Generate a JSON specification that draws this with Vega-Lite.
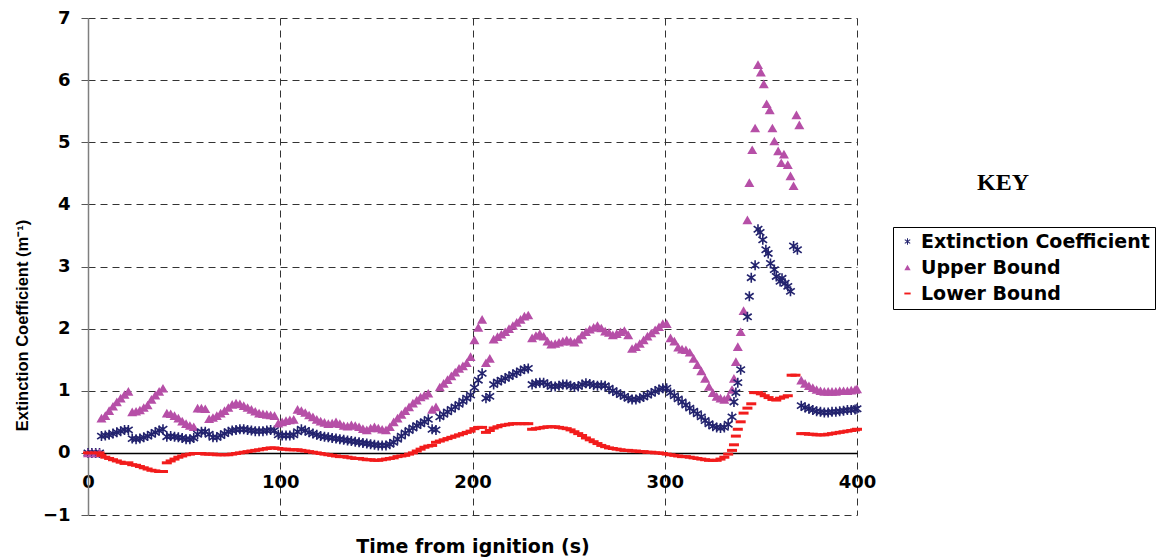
{
  "$schema": "https://vega.github.io/schema/vega-lite/v6.json",
  "width": 769,
  "height": 497,
  "autosize": {"type": "none"},
  "padding": {"left": 88, "top": 18, "right": 310, "bottom": 43},
  "background": "white",
  "title": {"text": "KEY", "font": "Liberation Serif", "fontSize": 24, "fontWeight": "bold", "color": "#000", "anchor": "start", "frame": "group", "orient": "top", "offset": 0, "baseline": "alphabetic", "dx": 889, "dy": 205},
  "data": {"values": [
    {"t":0,"e":0,"u":0,"l":0},{"t":2,"e":0,"u":0,"l":0},{"t":4,"e":0,"u":0,"l":0},{"t":6,"e":0,"u":0,"l":0},
    {"t":7,"e":0.27,"u":0.56,"l":-0.04},{"t":9,"e":0.28,"u":0.6,"l":-0.07},{"t":11,"e":0.29,"u":0.68,"l":-0.09},{"t":13,"e":0.31,"u":0.75,"l":-0.11},
    {"t":15,"e":0.33,"u":0.82,"l":-0.13},{"t":17,"e":0.35,"u":0.88,"l":-0.15},{"t":19,"e":0.37,"u":0.94,"l":-0.17},{"t":21,"e":0.37,"u":0.99,"l":-0.16},
    {"t":23,"e":0.23,"u":0.66,"l":-0.19},{"t":25,"e":0.22,"u":0.67,"l":-0.2},{"t":27,"e":0.23,"u":0.69,"l":-0.22},{"t":29,"e":0.25,"u":0.73,"l":-0.24},
    {"t":31,"e":0.27,"u":0.77,"l":-0.26},{"t":33,"e":0.3,"u":0.86,"l":-0.28},{"t":35,"e":0.33,"u":0.93,"l":-0.29},{"t":37,"e":0.36,"u":0.99,"l":-0.3},
    {"t":39,"e":0.38,"u":1.04,"l":-0.3},{"t":41,"e":0.26,"u":0.64,"l":-0.16},{"t":43,"e":0.27,"u":0.63,"l":-0.13},{"t":45,"e":0.26,"u":0.6,"l":-0.1},
    {"t":47,"e":0.25,"u":0.56,"l":-0.07},{"t":49,"e":0.24,"u":0.51,"l":-0.05},{"t":51,"e":0.22,"u":0.47,"l":-0.03},{"t":53,"e":0.22,"u":0.44,"l":-0.02},
    {"t":55,"e":0.24,"u":0.42,"l":-0.01},{"t":57,"e":0.3,"u":0.72,"l":-0.01},{"t":59,"e":0.34,"u":0.72,"l":-0.01},{"t":61,"e":0.34,"u":0.71,"l":-0.02},
    {"t":63,"e":0.3,"u":0.55,"l":-0.02},{"t":65,"e":0.25,"u":0.57,"l":-0.02},{"t":67,"e":0.25,"u":0.6,"l":-0.03},{"t":69,"e":0.28,"u":0.64,"l":-0.03},
    {"t":71,"e":0.31,"u":0.68,"l":-0.03},{"t":73,"e":0.34,"u":0.73,"l":-0.03},{"t":75,"e":0.36,"u":0.78,"l":-0.02},{"t":77,"e":0.37,"u":0.8,"l":-0.01},
    {"t":79,"e":0.38,"u":0.79,"l":0},{"t":81,"e":0.38,"u":0.76,"l":0.01},{"t":83,"e":0.37,"u":0.73,"l":0.02},{"t":85,"e":0.36,"u":0.7,"l":0.03},
    {"t":87,"e":0.35,"u":0.67,"l":0.04},{"t":89,"e":0.35,"u":0.64,"l":0.05},{"t":91,"e":0.35,"u":0.63,"l":0.06},{"t":93,"e":0.36,"u":0.62,"l":0.07},
    {"t":95,"e":0.37,"u":0.61,"l":0.08},{"t":97,"e":0.36,"u":0.6,"l":0.08},{"t":99,"e":0.29,"u":0.48,"l":0.07},{"t":101,"e":0.28,"u":0.5,"l":0.06},
    {"t":103,"e":0.28,"u":0.52,"l":0.06},{"t":105,"e":0.28,"u":0.53,"l":0.05},{"t":107,"e":0.29,"u":0.54,"l":0.05},{"t":109,"e":0.34,"u":0.7,"l":0.05},
    {"t":111,"e":0.38,"u":0.68,"l":0.04},{"t":113,"e":0.36,"u":0.65,"l":0.03},{"t":115,"e":0.33,"u":0.61,"l":0.02},{"t":117,"e":0.31,"u":0.58,"l":0.01},
    {"t":119,"e":0.29,"u":0.54,"l":0},{"t":121,"e":0.27,"u":0.51,"l":-0.01},{"t":123,"e":0.26,"u":0.49,"l":-0.02},{"t":125,"e":0.25,"u":0.47,"l":-0.03},
    {"t":127,"e":0.24,"u":0.48,"l":-0.04},{"t":129,"e":0.23,"u":0.5,"l":-0.05},{"t":131,"e":0.22,"u":0.47,"l":-0.06},{"t":133,"e":0.21,"u":0.44,"l":-0.06},
    {"t":135,"e":0.2,"u":0.43,"l":-0.07},{"t":137,"e":0.19,"u":0.45,"l":-0.08},{"t":139,"e":0.18,"u":0.44,"l":-0.09},{"t":141,"e":0.17,"u":0.42,"l":-0.09},
    {"t":143,"e":0.16,"u":0.39,"l":-0.1},{"t":145,"e":0.15,"u":0.37,"l":-0.11},{"t":147,"e":0.14,"u":0.4,"l":-0.11},{"t":149,"e":0.13,"u":0.42,"l":-0.12},
    {"t":151,"e":0.12,"u":0.4,"l":-0.12},{"t":153,"e":0.12,"u":0.38,"l":-0.11},{"t":155,"e":0.12,"u":0.37,"l":-0.1},{"t":157,"e":0.14,"u":0.42,"l":-0.09},
    {"t":159,"e":0.17,"u":0.5,"l":-0.08},{"t":161,"e":0.22,"u":0.56,"l":-0.06},{"t":163,"e":0.27,"u":0.62,"l":-0.05},{"t":165,"e":0.32,"u":0.68,"l":-0.04},
    {"t":167,"e":0.36,"u":0.74,"l":-0.02},{"t":169,"e":0.4,"u":0.8,"l":0},{"t":171,"e":0.44,"u":0.85,"l":0.03},{"t":173,"e":0.47,"u":0.9,"l":0.06},
    {"t":175,"e":0.5,"u":0.93,"l":0.09},{"t":177,"e":0.54,"u":0.96,"l":0.11},{"t":179,"e":0.38,"u":0.7,"l":0.12},{"t":181,"e":0.37,"u":0.74,"l":0.17},
    {"t":183,"e":0.58,"u":1.06,"l":0.19},{"t":185,"e":0.62,"u":1.12,"l":0.21},{"t":187,"e":0.66,"u":1.18,"l":0.23},{"t":189,"e":0.7,"u":1.24,"l":0.25},
    {"t":191,"e":0.74,"u":1.3,"l":0.27},{"t":193,"e":0.78,"u":1.36,"l":0.29},{"t":195,"e":0.83,"u":1.4,"l":0.31},{"t":197,"e":0.88,"u":1.45,"l":0.33},
    {"t":199,"e":0.93,"u":1.55,"l":0.35},{"t":201,"e":1.05,"u":1.82,"l":0.39},{"t":203,"e":1.17,"u":2.02,"l":0.41},{"t":205,"e":1.28,"u":2.15,"l":0.41},
    {"t":207,"e":0.88,"u":1.45,"l":0.33},{"t":209,"e":0.91,"u":1.52,"l":0.36},{"t":211,"e":1.1,"u":1.83,"l":0.4},{"t":213,"e":1.14,"u":1.87,"l":0.42},
    {"t":215,"e":1.17,"u":1.91,"l":0.44},{"t":217,"e":1.2,"u":1.95,"l":0.45},{"t":219,"e":1.23,"u":2.0,"l":0.46},{"t":221,"e":1.26,"u":2.05,"l":0.47},
    {"t":223,"e":1.29,"u":2.1,"l":0.47},{"t":225,"e":1.32,"u":2.15,"l":0.47},{"t":227,"e":1.35,"u":2.2,"l":0.47},{"t":229,"e":1.36,"u":2.22,"l":0.47},
    {"t":231,"e":1.1,"u":1.85,"l":0.38},{"t":233,"e":1.12,"u":1.89,"l":0.39},{"t":235,"e":1.13,"u":1.92,"l":0.4},{"t":237,"e":1.13,"u":1.88,"l":0.41},
    {"t":239,"e":1.1,"u":1.8,"l":0.42},{"t":241,"e":1.07,"u":1.75,"l":0.42},{"t":243,"e":1.07,"u":1.76,"l":0.42},{"t":245,"e":1.08,"u":1.78,"l":0.41},
    {"t":247,"e":1.1,"u":1.8,"l":0.4},{"t":249,"e":1.1,"u":1.82,"l":0.39},{"t":251,"e":1.08,"u":1.8,"l":0.37},{"t":253,"e":1.06,"u":1.78,"l":0.34},
    {"t":255,"e":1.07,"u":1.83,"l":0.31},{"t":257,"e":1.1,"u":1.9,"l":0.28},{"t":259,"e":1.12,"u":1.95,"l":0.24},{"t":261,"e":1.11,"u":1.99,"l":0.21},
    {"t":263,"e":1.09,"u":2.02,"l":0.18},{"t":265,"e":1.08,"u":2.05,"l":0.15},{"t":267,"e":1.09,"u":2.01,"l":0.12},{"t":269,"e":1.08,"u":1.96,"l":0.1},
    {"t":271,"e":1.04,"u":1.94,"l":0.08},{"t":273,"e":1.0,"u":1.9,"l":0.07},{"t":275,"e":0.97,"u":1.92,"l":0.06},{"t":277,"e":0.94,"u":1.95,"l":0.05},
    {"t":279,"e":0.91,"u":1.97,"l":0.04},{"t":281,"e":0.88,"u":1.9,"l":0.04},{"t":283,"e":0.86,"u":1.68,"l":0.03},{"t":285,"e":0.86,"u":1.71,"l":0.03},
    {"t":287,"e":0.88,"u":1.76,"l":0.02},{"t":289,"e":0.9,"u":1.82,"l":0.02},{"t":291,"e":0.93,"u":1.88,"l":0.01},{"t":293,"e":0.96,"u":1.93,"l":0.01},
    {"t":295,"e":0.99,"u":1.98,"l":0},{"t":297,"e":1.02,"u":2.03,"l":0},{"t":299,"e":1.04,"u":2.08,"l":-0.01},{"t":301,"e":1.04,"u":2.08,"l":-0.02},
    {"t":303,"e":0.97,"u":1.85,"l":-0.03},{"t":305,"e":0.92,"u":1.8,"l":-0.04},{"t":307,"e":0.87,"u":1.7,"l":-0.05},{"t":309,"e":0.82,"u":1.67,"l":-0.06},
    {"t":311,"e":0.77,"u":1.66,"l":-0.06},{"t":313,"e":0.72,"u":1.62,"l":-0.07},{"t":315,"e":0.67,"u":1.52,"l":-0.08},{"t":317,"e":0.63,"u":1.42,"l":-0.09},
    {"t":319,"e":0.58,"u":1.32,"l":-0.1},{"t":321,"e":0.52,"u":1.2,"l":-0.11},{"t":323,"e":0.47,"u":1.07,"l":-0.12},{"t":325,"e":0.43,"u":0.97,"l":-0.12},
    {"t":327,"e":0.41,"u":0.91,"l":-0.12},{"t":329,"e":0.4,"u":0.88,"l":-0.1},{"t":331,"e":0.41,"u":0.86,"l":-0.07},{"t":333,"e":0.46,"u":0.9,"l":-0.02},
    {"t":335,"e":0.58,"u":1.02,"l":0.04},{"t":336,"e":0.82,"u":1.2,"l":0.13},{"t":337,"e":0.97,"u":1.47,"l":0.27},{"t":338,"e":1.13,"u":1.71,"l":0.38},
    {"t":339.5,"e":1.34,"u":1.95,"l":0.5},{"t":341,"u":2.29,"l":0.64},{"t":343,"e":2.19,"u":3.75,"l":0.72},{"t":344,"e":2.52,"u":4.35},
    {"t":345,"e":2.82,"l":0.79},{"t":345.5,"u":4.88},{"t":346.5,"l":0.97},{"t":347,"e":3.02,"u":5.23},
    {"t":348.5,"e":3.6,"u":6.25,"l":0.97},{"t":349.6,"e":3.55},{"t":350,"u":6.13,"l":0.95},{"t":351,"e":3.43},
    {"t":351.5,"u":5.94},{"t":352,"l":0.92},{"t":352.6,"e":3.27},{"t":353,"u":5.62},
    {"t":353.8,"e":3.21},{"t":354,"l":0.89},{"t":354.6,"u":5.52},{"t":355,"e":3.05},
    {"t":356,"u":5.23,"l":0.86},{"t":357,"e":2.95,"u":5.02},{"t":358,"e":2.84,"l":0.85},{"t":359,"u":4.86},
    {"t":360,"e":2.76,"l":0.88},{"t":360.6,"u":4.67},{"t":361,"e":2.81},{"t":362,"u":4.81,"l":0.9},
    {"t":362.6,"e":2.73},{"t":364,"e":2.68,"u":4.64,"l":0.92},{"t":365.4,"e":2.6,"u":4.46},{"t":366,"l":1.25},
    {"t":367,"e":3.33,"u":4.3},{"t":368,"l":1.25},{"t":368.5,"u":5.44},{"t":369,"e":3.27},{"t":370,"u":5.28},
    {"t":371,"e":0.76,"u":1.17,"l":0.31},{"t":373,"e":0.73,"u":1.12,"l":0.31},{"t":375,"e":0.71,"u":1.08,"l":0.3},{"t":377,"e":0.69,"u":1.05,"l":0.3},
    {"t":379,"e":0.67,"u":1.02,"l":0.29},{"t":381,"e":0.66,"u":1.0,"l":0.29},{"t":383,"e":0.65,"u":0.99,"l":0.29},{"t":385,"e":0.65,"u":0.99,"l":0.3},
    {"t":387,"e":0.66,"u":0.99,"l":0.31},{"t":389,"e":0.66,"u":0.99,"l":0.32},{"t":391,"e":0.67,"u":1.0,"l":0.33},{"t":393,"e":0.68,"u":1.0,"l":0.34},
    {"t":395,"e":0.69,"u":1.0,"l":0.35},{"t":397,"e":0.69,"u":1.01,"l":0.36},{"t":399,"e":0.7,"u":1.02,"l":0.37},{"t":400,"e":0.71,"u":1.03,"l":0.38}
  ]},
  "transform": [
    {"fold": ["e", "u", "l"], "as": ["s", "v"]},
    {"filter": "isValid(datum.v)"}
  ],
  "mark": {"type": "point", "filled": true, "size": 100, "strokeWidth": 0, "opacity": 1},
  "encoding": {
    "x": {
      "field": "t", "type": "quantitative",
      "scale": {"domain": [0, 400], "nice": false, "zero": false},
      "axis": {
        "values": [0, 100, 200, 300, 400],
        "offset": -62.125,
        "domainColor": "#000", "domainWidth": 1.5,
        "tickSize": 0,
        "labelPadding": 21, "labelFlush": false, "labelOverlap": false,
        "labelFont": "DejaVu Sans", "labelFontSize": 18, "labelFontWeight": "bold", "labelColor": "#000",
        "grid": true, "gridColor": "#333", "gridDash": [7, 5], "gridWidth": 1,
        "gridOpacity": {"condition": {"test": "datum.value === 0", "value": 0}, "value": 1},
        "title": "Time from ignition (s)",
        "titleFont": "DejaVu Sans", "titleFontSize": 19, "titleFontWeight": "bold", "titleColor": "#000",
        "titleY": 94, "titleBaseline": "middle"
      }
    },
    "y": {
      "field": "v", "type": "quantitative",
      "scale": {"domain": [-1, 7], "nice": false, "zero": false},
      "axis": {
        "values": [-1, 0, 1, 2, 3, 4, 5, 6, 7],
        "domainColor": "#7f7f7f", "domainWidth": 1.5,
        "tickSize": 7, "tickColor": "#555",
        "labelPadding": 11, "labelFlush": false, "labelOverlap": false,
        "labelFont": "DejaVu Sans", "labelFontSize": 18, "labelFontWeight": "bold", "labelColor": "#000",
        "grid": true, "gridColor": "#333", "gridDash": [7, 5], "gridWidth": 1,
        "gridOpacity": {"condition": {"test": "datum.value === 0", "value": 0}, "value": 1},
        "title": "Extinction Coefficient (m⁻¹)",
        "titleFont": "Liberation Sans", "titleFontSize": 16.5, "titleFontWeight": "bold", "titleColor": "#000",
        "titleX": -66, "titleY": 307, "titleBaseline": "middle", "titleAlign": "center"
      }
    },
    "color": {
      "field": "s", "type": "nominal",
      "scale": {"domain": ["e", "u", "l"], "range": ["#23236e", "#b64fa7", "#f21c1c"]},
      "legend": {
        "orient": "none", "legendX": 805, "legendY": 209,
        "title": null,
        "strokeColor": "#000", "fillColor": "#fff", "padding": 5,
        "labelExpr": "{'e': 'Extinction Coefficient', 'u': 'Upper Bound', 'l': 'Lower Bound'}[datum.label]",
        "labelFont": "DejaVu Sans", "labelFontSize": 19, "labelFontWeight": "bold", "labelColor": "#000",
        "labelLimit": 400,
        "labelOffset": 4, "rowPadding": 6,
        "symbolSize": 40, "symbolStrokeWidth": 0
      }
    },
    "shape": {
      "field": "s", "type": "nominal",
      "scale": {"domain": ["e", "u", "l"], "range": [
        "M-0.16,-1H0.16V1H-0.16Z M-0.76,-0.74L0.96,0.48L0.76,0.74L-0.96,-0.48Z M0.76,-0.74L0.96,-0.48L-0.76,0.74L-0.96,0.48Z",
        "triangle-up",
        "M-1,-0.3H1V0.3H-1Z"
      ]}
    }
  },
  "config": {"view": {"stroke": null}}
}
